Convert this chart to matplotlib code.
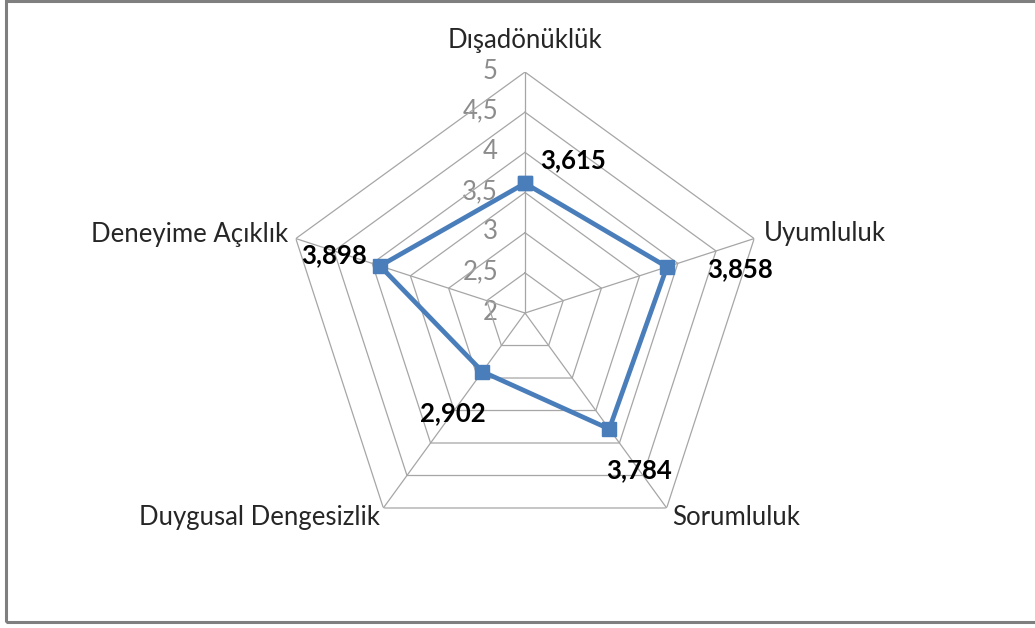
import numpy as np
import matplotlib
matplotlib.use("Agg")
import matplotlib.pyplot as plt
from matplotlib.patches import Rectangle

plt.rcParams['font.family'] = ['Lato', 'DejaVu Sans']

# data
categories = ["Dışadönüklük", "Uyumluluk", "Sorumluluk", "Duygusal Dengesizlik", "Deneyime Açıklık"]
values = [3.615, 3.858, 3.784, 2.902, 3.898]
value_labels = ["3,615", "3,858", "3,784", "2,902", "3,898"]
ticks = [2, 2.5, 3, 3.5, 4, 4.5, 5]
tick_labels = ["2", "2,5", "3", "3,5", "4", "4,5", "5"]

grid_col = "#a6a6a6"
line_col = "#4a7ebb"
fs = 18.5

fig = plt.figure(figsize=(10.35, 6.28), dpi=100)
ax = fig.add_axes([0.2744, 0.1178, 0.4657, 0.7675], projection="polar")
ax.set_theta_zero_location("N")
ax.set_theta_direction(-1)
ax.set_ylim(2, 5)
ax.grid(False)
ax.spines["polar"].set_visible(False)
ax.set_xticks([])
ax.set_yticks([])
ax.patch.set_alpha(0)

n = len(categories)
angles = np.arange(n) * 2 * np.pi / n

# tick labels (drawn first so the grid sits over them)
for t, lab in zip(ticks, tick_labels):
    ax.annotate(lab, (0, t), xytext=(-27, 1), textcoords="offset pixels",
                ha="right", va="center", fontsize=fs, color="#8c8c8c", zorder=1)

# pentagon grid and spokes
closed = np.append(angles, angles[0])
for t in ticks[1:]:
    ax.plot(closed, [t] * (n + 1), color=grid_col, lw=0.9, zorder=2)
for a in angles:
    ax.plot([a, a], [2, 5], color=grid_col, lw=0.9, zorder=2)

# series
ax.plot(closed, values + values[:1], color=line_col, lw=3.4, marker="s",
        markersize=10.5, zorder=4, clip_on=False)

# data labels
label_offsets = [(48, 23), (73, -2), (30, -41), (-30, -41), (-46, 11)]
for a, v, lab, off in zip(angles, values, value_labels, label_offsets):
    ax.annotate(lab, (a, v), xytext=off, textcoords="offset pixels",
                ha="center", va="center", fontsize=fs, fontweight="bold",
                color="black", zorder=5)

# category labels
cat_pos = [((0, 32), "center", "center"),
           ((10, 5), "left", "center"),
           ((5, -10), "left", "center"),
           ((-3, -10), "right", "center"),
           ((-8, 4), "right", "center")]
for a, name, (off, ha, va) in zip(angles, categories, cat_pos):
    ax.annotate(name, (a, 5), xytext=off, textcoords="offset pixels",
                ha=ha, va=va, fontsize=fs, color="#262626", zorder=5)

# outer frame (right side runs off the image, as in the reference)
fig.patches.append(Rectangle((6 / 1035, 6 / 628), 1040 / 1035, 621 / 628,
                             transform=fig.transFigure, fill=False,
                             edgecolor="#7f7f7f", lw=2.2))

fig.savefig("out.png", dpi=100)
